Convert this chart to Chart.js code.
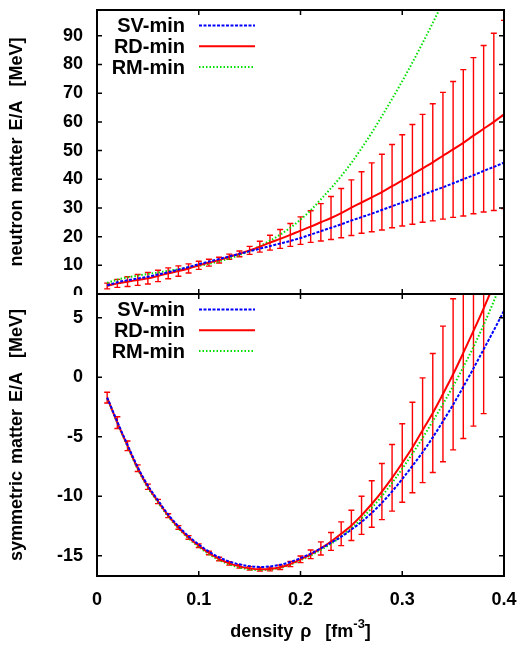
<!DOCTYPE html>
<html>
<head>
<meta charset="utf-8">
<script src="https://cdn.jsdelivr.net/npm/chart.js@4.4.1/dist/chart.umd.min.js"></script>
<style>
    html, body { margin: 0; padding: 0; background: #fff; }
    #wrap { position: relative; width: 531px; height: 646px; overflow: hidden; }
    #wrap > div { position: absolute; left: 0; width: 531px; }
    #top { top: 0; height: 295px; }
    #bottom { top: 290px; height: 356px; }
</style>
</head>
<body>
<div id="wrap">
    <div id="top"><canvas id="nm"></canvas></div>
    <div id="bottom"><canvas id="sm"></canvas></div>
</div>
<script>
// density grid, fm^-3
const density = [0.01, 0.02, 0.03, 0.04, 0.05, 0.06, 0.07, 0.08, 0.09, 0.10,
    0.11, 0.12, 0.13, 0.14, 0.15, 0.16, 0.17, 0.18, 0.19, 0.20,
    0.21, 0.22, 0.23, 0.24, 0.25, 0.26, 0.27, 0.28, 0.29, 0.30,
    0.31, 0.32, 0.33, 0.34, 0.35, 0.36, 0.37, 0.38, 0.39, 0.40]

// neutron matter E/A [MeV]
const nmSV = [3.0, 4.1, 4.8, 5.4, 6.0, 6.8, 7.6, 8.5, 9.4, 10.4,
    11.3, 12.2, 13.1, 14.0, 14.9, 15.8, 16.7, 17.6, 18.5, 19.5,
    20.7, 21.9, 23.1, 24.3, 25.6, 26.8, 28.0, 29.3, 30.6, 31.9,
    33.2, 34.5, 35.9, 37.2, 38.6, 40.0, 41.4, 42.9, 44.3, 45.8]
const nmRD = [2.8, 3.7, 4.3, 4.9, 5.5, 6.3, 7.2, 8.0, 8.9, 10.0,
    10.9, 11.8, 13.0, 14.0, 15.2, 16.5, 17.9, 19.2, 20.6, 22.1,
    23.5, 25.0, 26.5, 28.2, 30.1, 31.9, 33.7, 35.5, 37.6, 39.6,
    41.7, 43.8, 45.9, 48.2, 50.4, 52.7, 55.2, 57.6, 60.0, 62.6]
const nmRM = [3.9, 5.0, 5.8, 6.4, 7.0, 7.5, 8.1, 8.6, 9.2, 9.8,
    10.5, 11.4, 12.4, 13.6, 15.0, 16.7, 18.6, 20.7, 23.1, 25.9,
    29.2, 33.0, 36.9, 41.1, 45.7, 50.8, 56.2, 62.0, 68.0, 74.2,
    80.7, 87.5, 94.5, 101.8, 109.3, 117.0, 124.9, 133.0, 141.3, 149.8]
const nmErr = [1.0, 1.4, 1.7, 1.9, 2.0, 2.0, 1.9, 1.8, 1.6, 1.4,
    1.2, 1.0, 0.9, 1.0, 1.4, 1.9, 2.6, 3.3, 4.0, 4.8,
    5.5, 6.5, 7.5, 8.6, 9.7, 10.7, 12.0, 13.2, 14.5, 15.9,
    17.4, 18.8, 20.4, 22.1, 23.7, 25.5, 27.2, 29.0, 30.9, 32.8]

// symmetric matter E/A [MeV]
const smSV = [-1.70, -3.75, -5.68, -7.55, -9.10, -10.35, -11.53, -12.52, -13.36, -14.05,
    -14.65, -15.13, -15.48, -15.72, -15.87, -15.94, -15.90, -15.76, -15.52, -15.20,
    -14.82, -14.38, -13.90, -13.40, -12.80, -12.15, -11.40, -10.55, -9.60, -8.55,
    -7.45, -6.30, -5.05, -3.70, -2.30, -0.80, 0.75, 2.35, 3.95, 5.60]
const smRD = [-1.71, -3.81, -5.76, -7.64, -9.20, -10.44, -11.63, -12.62, -13.46, -14.15,
    -14.77, -15.27, -15.64, -15.89, -16.06, -16.14, -16.11, -15.97, -15.69, -15.30,
    -14.88, -14.38, -13.80, -13.15, -12.45, -11.60, -10.65, -9.60, -8.45, -7.20,
    -5.90, -4.45, -3.00, -1.40, 0.25, 2.05, 3.90, 5.80, 7.80, 9.90]
const smRM = [-1.75, -3.85, -5.82, -7.72, -9.28, -10.52, -11.70, -12.70, -13.55, -14.25,
    -14.86, -15.36, -15.73, -15.98, -16.14, -16.20, -16.16, -16.02, -15.75, -15.38,
    -14.98, -14.50, -14.00, -13.38, -12.68, -11.88, -10.98, -9.98, -8.88, -7.68,
    -6.42, -5.10, -3.70, -2.25, -0.75, 0.85, 2.55, 4.40, 6.40, 8.50]
const smErr = [0.45, 0.50, 0.40, 0.28, 0.22, 0.18, 0.16, 0.15, 0.15, 0.15,
    0.15, 0.15, 0.15, 0.15, 0.15, 0.15, 0.16, 0.18, 0.22, 0.28,
    0.36, 0.55, 0.75, 1.00, 1.27, 1.60, 1.95, 2.36, 2.80, 3.30,
    3.80, 4.40, 5.00, 5.70, 6.35, 7.20, 8.00, 8.85, 9.70, 10.60]

const xTicks = [0, 0.1, 0.2, 0.3, 0.4]
const xTickLabels = ["0", "0.1", "0.2", "0.3", "0.4"]
const nmYTicks = [0, 10, 20, 30, 40, 50, 60, 70, 80, 90]
const smYTicks = [-15, -10, -5, 0, 5]

const FONT = "'Liberation Sans', Arial, Helvetica, sans-serif"
const BLUE = "#0000ff", RED = "#ff0000", GREEN = "#00e000"
const AXIS_W = 97

Chart.defaults.font.family = FONT
Chart.defaults.color = "#000"

const pts = ys => ys.map((y, i) => ({x: density[i], y}))

function makeDatasets(sv, rd, rm, err){
    return [
        {label: "SV-min", data: pts(sv), borderColor: BLUE, borderWidth: 2, borderDash: [3, 1.5]},
        {label: "RD-min", data: pts(rd), borderColor: RED, borderWidth: 2, errors: err},
        {label: "RM-min", data: pts(rm), borderColor: GREEN, borderWidth: 2, borderDash: [1.5, 2]},
    ].map(d => ({...d, pointRadius: 0, fill: false, cubicInterpolationMode: "monotone"}))
}

// scales must not grow the layout for their own labels
function noPadding(s){
    s.paddingTop = 0
    s.paddingBottom = 0
    s.paddingLeft = 0
    s.paddingRight = 0
}

function drawErrorBars(chart){
    const {ctx, chartArea: a, scales: {x, y}} = chart
    ctx.save()
    ctx.beginPath()
    ctx.rect(a.left, a.top, a.right - a.left, a.bottom - a.top)
    ctx.clip()
    ctx.strokeStyle = RED
    ctx.lineWidth = 1.4
    for (const ds of chart.data.datasets) {
        if (!ds.errors) continue
        ds.data.forEach((p, i) => {
            if (p.y < y.min || p.y > y.max) return
            const e = ds.errors[i]
            const px = x.getPixelForValue(p.x)
            const t = y.getPixelForValue(p.y + e)
            const b = y.getPixelForValue(p.y - e)
            ctx.beginPath()
            ctx.moveTo(px, t); ctx.lineTo(px, b)
            ctx.moveTo(px - 3, t); ctx.lineTo(px + 3, t)
            ctx.moveTo(px - 3, b); ctx.lineTo(px + 3, b)
            ctx.stroke()
        })
    }
    ctx.restore()
}

function drawFrame(chart, yTicks){
    const {ctx, chartArea: a, scales: {x, y}} = chart
    const tl = 5
    ctx.save()
    ctx.strokeStyle = "#000"
    ctx.lineWidth = 1.5
    ctx.beginPath()
    for (const v of xTicks) {
        const px = x.getPixelForValue(v)
        ctx.moveTo(px, a.bottom); ctx.lineTo(px, a.bottom - tl)
        ctx.moveTo(px, a.top); ctx.lineTo(px, a.top + tl)
    }
    for (const v of yTicks) {
        const py = y.getPixelForValue(v)
        ctx.moveTo(a.left, py); ctx.lineTo(a.left + tl, py)
        ctx.moveTo(a.right, py); ctx.lineTo(a.right - tl, py)
    }
    ctx.stroke()
    ctx.lineWidth = 2
    ctx.strokeRect(a.left, a.top, a.right - a.left, a.bottom - a.top)
    ctx.restore()
}

function drawLegend(chart){
    const {ctx, chartArea: a} = chart
    ctx.save()
    ctx.font = "bold 20px " + FONT
    ctx.textAlign = "right"
    ctx.textBaseline = "middle"
    chart.data.datasets.forEach((d, i) => {
        const y = a.top + 15.5 + i * 20.8
        ctx.fillStyle = "#000"
        ctx.fillText(d.label, a.left + 88, y + 1)
        ctx.strokeStyle = d.borderColor
        ctx.lineWidth = d.borderWidth
        ctx.setLineDash(d.borderDash || [])
        ctx.beginPath()
        ctx.moveTo(a.left + 102, y)
        ctx.lineTo(a.left + 158, y)
        ctx.stroke()
    })
    ctx.restore()
}

function drawXTitle(chart){
    const {ctx, chartArea: a} = chart
    const main = "bold 18px " + FONT, sup = "bold 13px " + FONT
    const parts = [["density \u03c1  [fm", main, 0], ["-3", sup, -9], ["]", main, 0]]
    ctx.save()
    ctx.fillStyle = "#000"
    ctx.textAlign = "left"
    ctx.textBaseline = "alphabetic"
    let w = 0
    for (const [t, f] of parts) { ctx.font = f; w += ctx.measureText(t).width }
    let x = (a.left + a.right) / 2 - w / 2
    const y = a.bottom + 61
    for (const [t, f, dy] of parts) {
        ctx.font = f
        ctx.fillText(t, x, y + dy)
        x += ctx.measureText(t).width
    }
    ctx.restore()
}

const panelDecor = {
    id: "panelDecor",
    beforeDraw(chart){ chart.ctx.wordSpacing = "2px" },
    beforeDatasetsDraw(chart){ drawErrorBars(chart) },
    afterDatasetsDraw(chart, args, opts){
        drawFrame(chart, opts.yTicks)
        drawLegend(chart)
    },
    afterDraw(chart, args, opts){
        if (opts.xTitle) drawXTitle(chart)
        chart.ctx.wordSpacing = "0px"
    }
}

const tickFont = {size: 18, weight: "bold"}

function yScale(min, max, ticks, title){
    return {
        min, max,
        afterBuildTicks: s => { s.ticks = ticks.map(v => ({value: v})) },
        afterFit: s => { s.width = AXIS_W; noPadding(s) },
        grid: {display: false, drawTicks: false},
        border: {display: false},
        ticks: {font: tickFont, padding: 14, callback: v => String(v)},
        title: {display: true, text: title, font: tickFont, padding: {top: 6, bottom: 0}}
    }
}

new Chart(document.getElementById("nm"), {
    type: "line",
    data: {datasets: makeDatasets(nmSV, nmRD, nmRM, nmErr)},
    plugins: [panelDecor],
    options: {
        responsive: true,
        maintainAspectRatio: false,
        animation: false,
        layout: {padding: {left: 0, right: 27, top: 10, bottom: 1}},
        plugins: {
            legend: {display: false},
            tooltip: {enabled: false},
            panelDecor: {yTicks: nmYTicks, xTitle: false}
        },
        scales: {
            x: {type: "linear", min: 0, max: 0.4, display: false, afterFit: s => { s.height = 0; noPadding(s) }},
            y: yScale(0, 99, nmYTicks, "neutron matter E/A  [MeV]")
        }
    }
})

new Chart(document.getElementById("sm"), {
    type: "line",
    data: {datasets: makeDatasets(smSV, smRD, smRM, smErr)},
    plugins: [panelDecor],
    options: {
        responsive: true,
        maintainAspectRatio: false,
        animation: false,
        layout: {padding: {left: 0, right: 27, top: 4, bottom: 0}},
        plugins: {
            legend: {display: false},
            tooltip: {enabled: false},
            panelDecor: {yTicks: smYTicks, xTitle: true}
        },
        scales: {
            x: {
                type: "linear", min: 0, max: 0.4,
                afterBuildTicks: s => { s.ticks = xTicks.map(v => ({value: v})) },
                afterFit: s => { s.height = 70; noPadding(s) },
                grid: {display: false, drawTicks: false},
                border: {display: false},
                ticks: {font: tickFont, padding: 13, maxRotation: 0, callback: (v, i) => xTickLabels[i]}
            },
            y: yScale(-16.7, 7, smYTicks, "symmetric matter E/A  [MeV]")
        }
    }
})
</script>
</body>
</html>
